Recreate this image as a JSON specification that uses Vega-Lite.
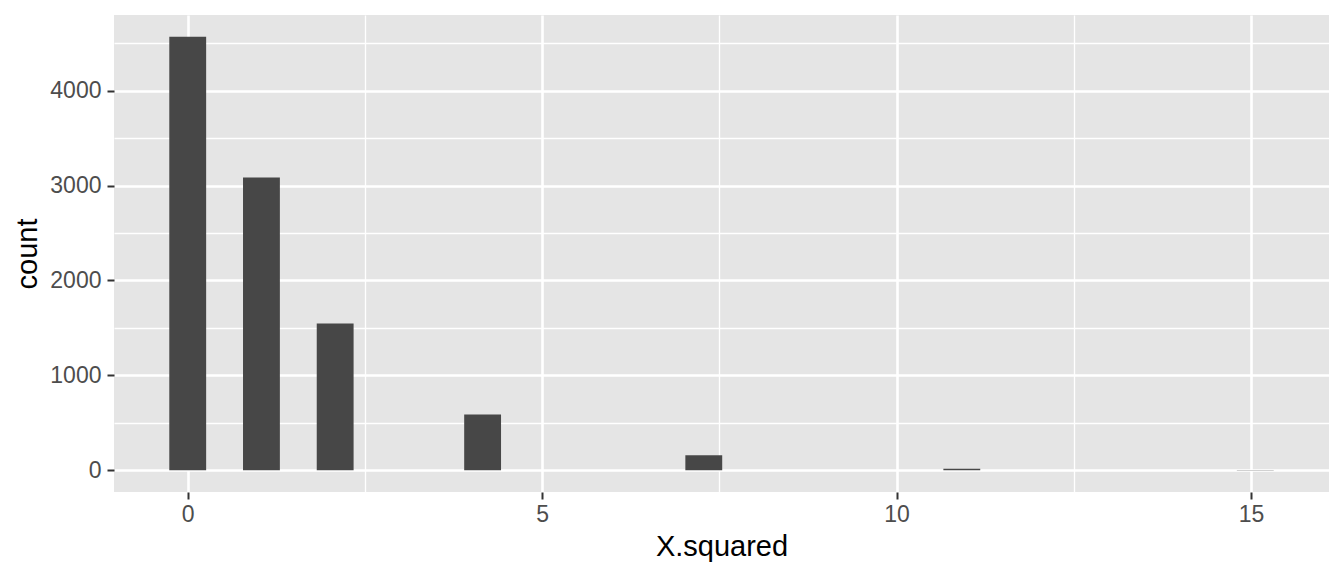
{
  "$schema": "https://vega.github.io/schema/vega-lite/v6.json",
  "width": 1215,
  "height": 477,
  "autosize": {"type": "none"},
  "padding": {"left": 114, "top": 15, "right": 15, "bottom": 84},
  "background": "white",
  "config": {
    "view": {"fill": "#E5E5E5", "stroke": null},
    "font": "Liberation Sans",
    "axis": {
      "domain": false,
      "gridColor": "white",
      "tickColor": "#333333",
      "tickWidth": 2,
      "tickSize": 7,
      "labelColor": "#4D4D4D",
      "labelFont": "Liberation Sans",
      "labelFontSize": 23,
      "titleFont": "Liberation Sans",
      "titleFontSize": 29,
      "titleFontWeight": "normal",
      "titleColor": "black"
    }
  },
  "data": {
    "values": [
      {"xmin": -0.26, "xmax": 0.26, "count": 4568},
      {"xmin": 0.78, "xmax": 1.30, "count": 3084},
      {"xmin": 1.82, "xmax": 2.34, "count": 1547},
      {"xmin": 3.90, "xmax": 4.42, "count": 589},
      {"xmin": 7.02, "xmax": 7.54, "count": 158},
      {"xmin": 10.66, "xmax": 11.18, "count": 18},
      {"xmin": 14.80, "xmax": 15.32, "count": 3}
    ]
  },
  "layer": [
    {
      "mark": {"type": "bar", "opacity": 0},
      "encoding": {
        "x": {
          "field": "xmin", "type": "quantitative",
          "scale": {"domain": [-1.04, 16.1], "nice": false, "zero": false, "padding": 0},
          "axis": {"values": [2.5, 7.5, 12.5], "grid": true, "gridWidth": 1.3, "labels": false, "ticks": false, "title": null, "orient": "bottom"}
        },
        "x2": {"field": "xmax"},
        "y": {
          "field": "count", "type": "quantitative",
          "scale": {"domain": [-228, 4796], "nice": false, "zero": false, "padding": 0},
          "axis": {"values": [500, 1500, 2500, 3500, 4500], "grid": true, "gridWidth": 1.3, "labels": false, "ticks": false, "title": null, "orient": "left"}
        },
        "y2": {"datum": 0}
      }
    },
    {
      "mark": {"type": "bar", "color": "#474747"},
      "encoding": {
        "x": {
          "field": "xmin", "type": "quantitative",
          "scale": {"domain": [-1.04, 16.1], "nice": false, "zero": false, "padding": 0},
          "axis": {"values": [0, 5, 10, 15], "grid": true, "gridWidth": 2.6, "title": "X.squared", "labelPadding": 4, "titlePadding": 6, "orient": "bottom", "format": "d"}
        },
        "x2": {"field": "xmax"},
        "y": {
          "field": "count", "type": "quantitative",
          "scale": {"domain": [-228, 4796], "nice": false, "zero": false, "padding": 0},
          "axis": {"values": [0, 1000, 2000, 3000, 4000], "grid": true, "gridWidth": 2.6, "title": "count", "labelPadding": 6, "titlePadding": 7, "orient": "left", "format": "d"}
        },
        "y2": {"datum": 0}
      }
    }
  ],
  "resolve": {"axis": {"x": "independent", "y": "independent"}}
}
